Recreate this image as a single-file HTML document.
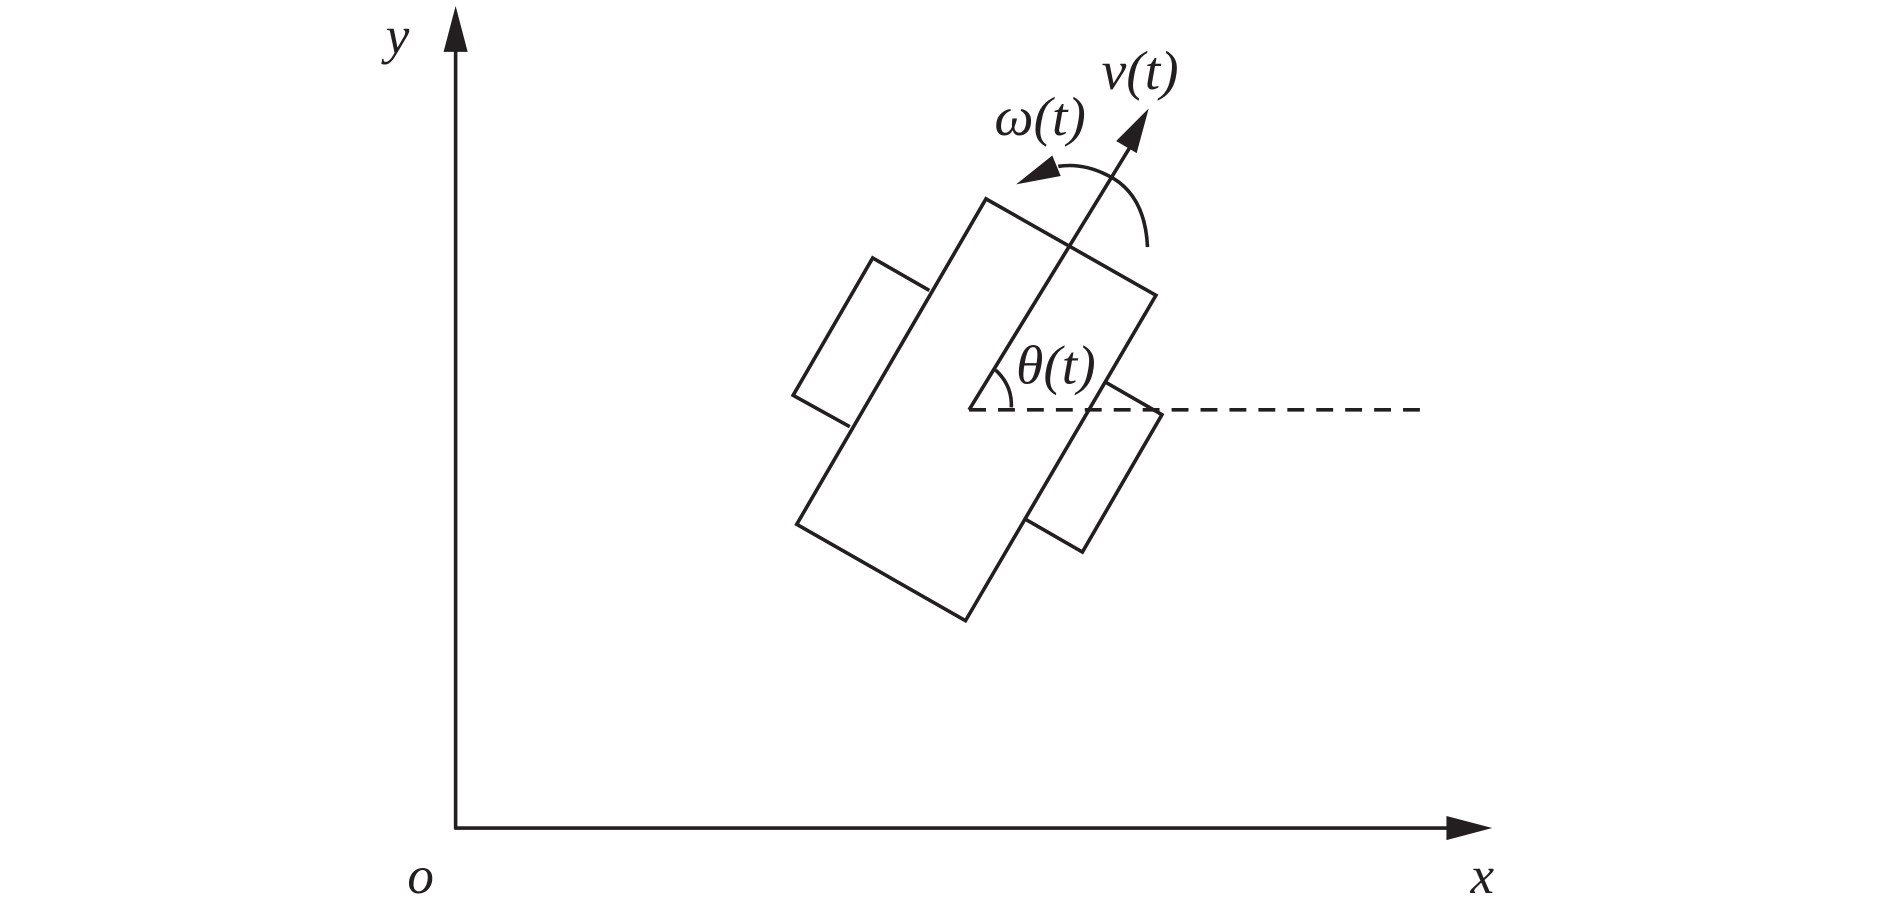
<!DOCTYPE html>
<html><head><meta charset="utf-8"><style>html,body{margin:0;padding:0;background:#fff}svg{display:block}text{font-family:"Liberation Serif",serif;font-style:italic;fill:#231f20}</style></head>
<body>
<svg width="1890" height="910" viewBox="0 0 1568 755" preserveAspectRatio="none" xmlns="http://www.w3.org/2000/svg">
<g stroke="#231f20" stroke-width="3" fill="none">
<line x1="378" y1="688" x2="378" y2="40"/>
<line x1="377" y1="687" x2="1205" y2="687"/>
<polygon points="818,165 959,245 801,515 661,435"/>
<polyline points="771,241 724,214 658,328 705,354"/>
<polyline points="917,317 964,344 898,458 851,431"/>
<line x1="804" y1="340" x2="940" y2="118"/>
<line x1="804" y1="340" x2="1180" y2="340" stroke-dasharray="14,10"/>
<path d="M826,307 Q840,320 839,338"/>
<path d="M952,205 Q950,160 918,145 Q898,135 878,138"/>
</g>
<g fill="#231f20">
<polygon points="378,5 368,43 388,43"/>
<polygon points="1238,687 1200,677 1200,697"/>
<polygon points="953,90 926,117 943,127"/>
<polygon points="843,153 880,146 873,129"/>
</g>
<text x="320" y="44" font-size="44">y</text>
<text x="338" y="741" font-size="44">o</text>
<text x="1220" y="741" font-size="44">x</text>
<text x="914" y="74" font-size="46">v(t)</text>
<text x="825" y="112" font-size="46">ω(t)</text>
<text x="843" y="318" font-size="46">θ(t)</text>
</svg>
</body></html>
